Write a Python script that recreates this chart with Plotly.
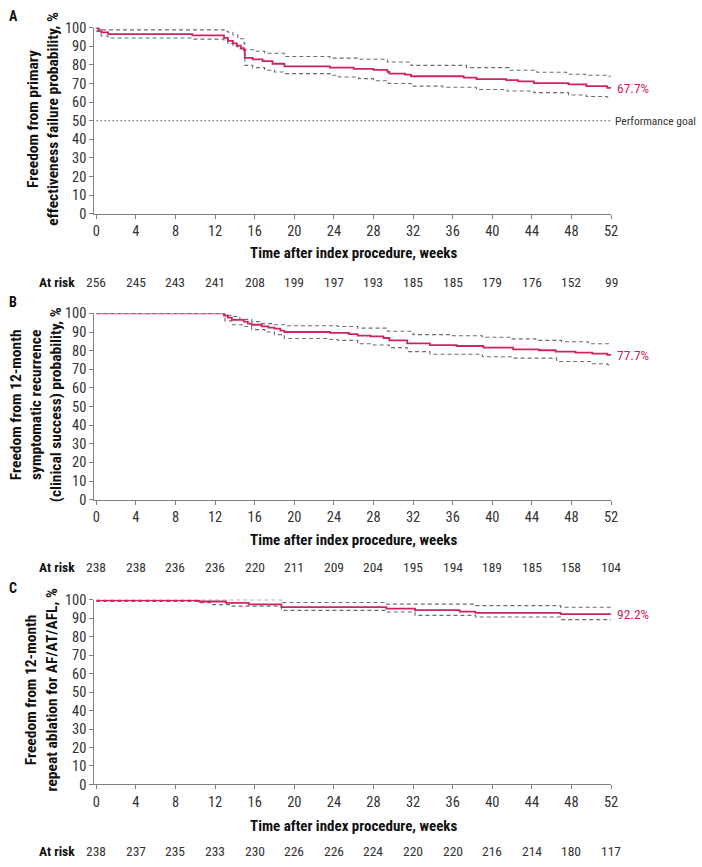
import plotly.graph_objects as go

# ---------------- data ----------------
weeks_ticks = [0, 4, 8, 12, 16, 20, 24, 28, 32, 36, 40, 44, 48, 52]
y_ticks = [0, 10, 20, 30, 40, 50, 60, 70, 80, 90, 100]

# Panel A: primary effectiveness
a_t = [0, 0.2, 0.5, 1.2, 9.7, 12.9, 13.3, 13.8, 14.2, 14.6, 14.9, 15.0, 15.8, 16.8, 17.8, 19.0, 23.6, 26.0, 28.0,
       29.4, 29.6, 31.2, 31.8, 37.1, 38.4, 41.4, 42.6, 44.2, 47.7, 49.5, 51.6, 52]
a_s = [100, 98.5, 97.4, 96.5, 95.8, 94.5, 92.9, 91.5, 90.3, 89.0, 88.0, 83.8, 83.0, 82.0, 80.6, 79.2, 78.5, 77.9, 77.3,
       76.2, 75.3, 74.8, 73.9, 73.2, 72.3, 71.8, 71.1, 70.2, 69.5, 68.6, 67.7, 67.7]
a_up_t = [0, 0.5, 12.9, 13.3, 13.8, 14.3, 14.9, 15.0, 16.0, 17.0, 19.0, 23.6, 26.5, 29.4, 31.8, 37.4, 41.7, 44.5, 47.5,
          49.4, 51.6, 52]
a_up = [99.5, 98.8, 98.0, 97.5, 96.0, 94.0, 91.7, 88.1, 87.3, 86.2, 84.5, 83.6, 83.0, 81.5, 79.7, 78.5, 77.1, 76.0, 75.0,
        74.4, 73.9, 73.9]
a_lo_t = [0, 0.5, 1.2, 9.7, 12.9, 13.3, 13.8, 14.3, 14.9, 15.0, 15.8, 17.0, 18.0, 19.0, 23.6, 24.5, 26.5, 28.0, 29.5,
          31.8, 35.0, 38.4, 41.5, 44.2, 47.7, 49.5, 51.6, 52]
a_lo = [98.0, 95.5, 94.4, 93.8, 93.2, 91.5, 90.0, 88.5, 87.0, 79.7, 78.5, 77.1, 76.2, 75.3, 74.4, 73.5, 72.6, 71.5, 70.0,
        68.6, 68.0, 66.8, 66.0, 65.1, 63.8, 63.0, 62.6, 62.6]
a_goal = 50
a_final = "67.7%"
a_risk = [256, 245, 243, 241, 208, 199, 197, 193, 185, 185, 179, 176, 152, 99]

# Panel B: clinical success
b_t = [0, 12.9, 13.3, 13.7, 14.9, 15.3, 15.7, 16.7, 17.4, 18.0, 18.6, 19.0, 23.6, 25.5, 26.4, 27.7, 29.0, 29.6, 31.4,
       33.7, 36.4, 39.1, 42.1, 44.7, 46.4, 48.4, 50.1, 51.6, 52]
b_s = [100, 98.8, 97.7, 96.5, 95.6, 94.5, 93.9, 93.0, 92.4, 91.8, 90.8, 90.0, 89.5, 88.9, 88.1, 87.7, 86.8, 85.5, 83.9,
       83.0, 82.5, 81.6, 80.7, 80.2, 79.5, 78.9, 78.4, 77.7, 77.7]
b_up_t = [0, 13.0, 13.7, 14.5, 15.7, 16.5, 18.0, 19.0, 24.4, 26.4, 29.4, 32.0, 36.0, 39.0, 42.0, 44.4, 47.0, 49.7, 52]
b_up = [100, 99.0, 98.3, 96.8, 95.6, 94.5, 93.9, 93.4, 93.0, 92.1, 90.4, 88.6, 88.0, 87.2, 86.3, 85.5, 84.8, 83.7, 83.7]
b_lo_t = [0, 13.0, 13.7, 14.9, 15.7, 17.0, 18.0, 19.0, 23.6, 24.4, 26.4, 28.0, 29.6, 31.4, 33.7, 39.0, 42.1, 46.5, 50.0,
          51.6, 52]
b_lo = [100, 96.0, 93.9, 93.0, 91.3, 90.0, 88.6, 86.5, 86.0, 85.5, 83.7, 83.0, 81.6, 79.5, 78.1, 76.7, 76.0, 74.2, 73.0,
        72.5, 72.5]
b_final = "77.7%"
b_risk = [238, 238, 236, 236, 220, 211, 209, 204, 195, 194, 189, 185, 158, 104]

# Panel C: repeat ablation
c_t = [0, 10.4, 13.1, 15.4, 18.7, 29.3, 32.2, 36.7, 38.3, 46.9, 52]
c_s = [99.6, 99.0, 98.3, 97.4, 96.0, 95.2, 94.3, 93.5, 92.9, 92.2, 92.2]
c_up_t = [0, 18.7, 29.3, 38.3, 46.9, 52]
c_up = [100, 98.5, 97.6, 96.8, 95.9, 95.9]
c_lo_t = [0, 10.4, 11.7, 13.7, 18.7, 29.3, 32.2, 38.3, 46.9, 52]
c_lo = [99.0, 98.4, 97.3, 96.5, 94.2, 93.3, 91.5, 90.6, 89.2, 89.2]
c_final = "92.2%"
c_risk = [238, 237, 235, 233, 230, 226, 226, 224, 220, 220, 216, 214, 180, 117]

panel_letters = ["A", "B", "C"]
y_titles = [
    "Freedom from primary<br>effectiveness failure probability, %",
    "Freedom from 12-month<br>symptomatic recurrence<br>(clinical success) probability, %",
    "Freedom from 12-month<br>repeat ablation for AF/AT/AFL, %",
]
x_title = "Time after index procedure, weeks"
risk_label = "At risk"
goal_label = "Performance goal"

# ---------------- style / layout ----------------
W, H = 702, 867
FONT = "Roboto Condensed, Liberation Sans Narrow, Roboto, sans-serif"
RED = "#d0245a"
GREY = "#6e6e6e"
TXT = "#333333"

x_left, x_right = 95.5, 617.0
panels_px = [(20, 210), (311.5, 501.5), (603.5, 792)]
ytitle_x = [41.5, 34, 40]
xtitle_px = [250, 543, 834]
risk_px = [279, 570, 860]


def py(p):
    return 1 - p / H


def px(p):
    return p / W


fig = go.Figure()

panels = [
    (a_t, a_s, a_up_t, a_up, a_lo_t, a_lo, a_final, a_risk),
    (b_t, b_s, b_up_t, b_up, b_lo_t, b_lo, b_final, b_risk),
    (c_t, c_s, c_up_t, c_up, c_lo_t, c_lo, c_final, c_risk),
]

annotations = []
for i, (t, s, ut, u, lt, l, fin, risk) in enumerate(panels):
    n = i + 1
    xa = "x" if n == 1 else f"x{n}"
    ya = "y" if n == 1 else f"y{n}"
    top, bot = panels_px[i]

    fig.add_trace(go.Scatter(x=ut, y=u, mode="lines", line=dict(color=GREY, width=1.1, dash="4px,3px", shape="hv"),
                             xaxis=xa, yaxis=ya, showlegend=False, cliponaxis=False, hoverinfo="skip"))
    fig.add_trace(go.Scatter(x=lt, y=l, mode="lines", line=dict(color=GREY, width=1.1, dash="4px,3px", shape="hv"),
                             xaxis=xa, yaxis=ya, showlegend=False, cliponaxis=False, hoverinfo="skip"))
    if n == 1:
        fig.add_trace(go.Scatter(x=[0, 52], y=[a_goal, a_goal], mode="lines",
                                 line=dict(color=GREY, width=1, dash="2px,2px"),
                                 xaxis=xa, yaxis=ya, showlegend=False, hoverinfo="skip"))
    fig.add_trace(go.Scatter(x=t, y=s, mode="lines", line=dict(color=RED, width=1.8, shape="hv"),
                             xaxis=xa, yaxis=ya, showlegend=False, cliponaxis=False))

    axis_common = dict(showline=True, linecolor="#808080", linewidth=1, ticks="outside", ticklen=4,
                       tickcolor="#808080", showgrid=False, zeroline=False,
                       tickfont=dict(family=FONT, size=14.5, color=TXT))
    fig.update_layout(**{
        ("xaxis" if n == 1 else f"xaxis{n}"): dict(
            range=[-0.2, 52], tickvals=weeks_ticks, domain=[px(x_left - 2), px(x_right)],
            anchor=ya, **axis_common),
        ("yaxis" if n == 1 else f"yaxis{n}"): dict(
            range=[0, 100], tickvals=y_ticks, domain=[py(bot), py(top)], anchor=xa, **axis_common),
    })

    annotations.append(dict(x=52, y=s[-1], xref=xa, yref=ya, text=fin, showarrow=False, xanchor="left",
                            xshift=4, font=dict(family=FONT, size=13.5, color=RED)))
    if n == 1:
        annotations.append(dict(x=52, y=a_goal, xref=xa, yref=ya, text=goal_label, showarrow=False,
                                xanchor="left", xshift=2, font=dict(family=FONT, size=11.5, color=TXT)))
    annotations.append(dict(x=px(5), y=py(top - 12), xref="paper", yref="paper", text=f"<b>{panel_letters[i]}</b>",
                            showarrow=False, xanchor="left", yanchor="middle",
                            font=dict(family=FONT, size=14, color="#111")))
    annotations.append(dict(x=px(ytitle_x[i]), y=py((top + bot) / 2 - 2), xref="paper", yref="paper",
                            text=f"<b>{y_titles[i]}</b>", textangle=-90, showarrow=False,
                            xanchor="center", yanchor="middle",
                            font=dict(family=FONT, size=15.5, color="#111")))
    annotations.append(dict(x=26, y=py(xtitle_px[i]), xref=xa, yref="paper", text=f"<b>{x_title}</b>",
                            showarrow=False, xanchor="center", yanchor="middle",
                            font=dict(family=FONT, size=15, color="#111")))
    annotations.append(dict(x=px(76), y=py(risk_px[i]), xref="paper", yref="paper", text=f"<b>{risk_label}</b>",
                            showarrow=False, xanchor="right", yanchor="middle",
                            font=dict(family=FONT, size=13.5, color="#111")))
    for wk, r in zip(weeks_ticks, risk):
        annotations.append(dict(x=wk, y=py(risk_px[i]), xref=xa, yref="paper", text=str(r), showarrow=False,
                                xanchor="center", yanchor="middle",
                                font=dict(family=FONT, size=13.5, color=TXT)))

fig.update_layout(width=W, height=H, margin=dict(l=0, r=0, t=0, b=0), plot_bgcolor="white",
                  paper_bgcolor="white", annotations=annotations, showlegend=False)

fig.write_html("out.html")
